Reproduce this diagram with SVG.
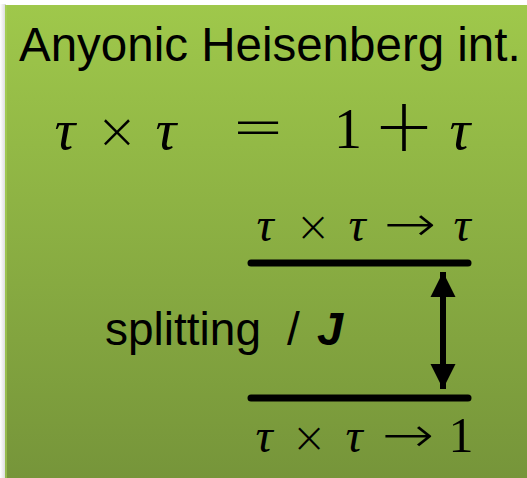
<svg xmlns="http://www.w3.org/2000/svg" width="527" height="478" viewBox="0 0 527 478">
<defs>
<linearGradient id="bg" x1="0" y1="0" x2="0" y2="1">
<stop offset="0" stop-color="#9fc84b"/>
<stop offset="1" stop-color="#76953a"/>
</linearGradient>
<linearGradient id="sh" x1="0" y1="0" x2="1" y2="0">
<stop offset="0" stop-color="#ffffff"/>
<stop offset="1" stop-color="#d8d8d8"/>
</linearGradient>
<marker id="ah" viewBox="0 0 10 10" refX="10" refY="5" markerWidth="4.2" markerHeight="4.2" orient="auto-start-reverse" markerUnits="strokeWidth">
<path d="M0,0 L10,5 L0,10 z" fill="#000"/>
</marker>
</defs>
<style>
.sans{font-family:"Liberation Sans",Arial,sans-serif;fill:#000}
.m{font-family:"Liberation Serif","DejaVu Serif",serif;fill:#000;text-anchor:middle}
.op{font-family:"DejaVu Sans",sans-serif;fill:#000;text-anchor:middle;font-weight:200}
.it{font-style:italic}
.lvl{stroke:#000;stroke-width:7;stroke-linecap:round}
</style>
<rect x="0" y="0" width="527" height="478" fill="#ffffff"/>
<rect x="0" y="4" width="6" height="474" fill="url(#sh)"/>
<rect x="5" y="5" width="522" height="473" fill="url(#bg)"/>
<rect x="5" y="5" width="2" height="473" fill="#a9d05a" opacity="0.6"/>

<g id="title"><text class="sans" x="19" y="61" font-size="47.5">Anyonic Heisenberg int.</text></g>

<g id="fusion-rule">
<text class="m it" x="65" y="149" font-size="58">τ</text>
<text class="op" x="117" y="148" font-size="50">×</text>
<text class="m it" x="166" y="149" font-size="58">τ</text>
<text class="op" x="258" y="148" font-size="64">=</text>
<text class="m" x="348" y="148" font-size="56">1</text>
<text class="op" x="404" y="151" font-size="74">+</text>
<text class="m it" x="460" y="149" font-size="58">τ</text>
</g>

<g id="level-top">
<line class="lvl" x1="251" y1="263" x2="468" y2="263"/>
<text class="m it" x="265" y="241" font-size="48">τ</text>
<text class="op" x="313" y="241" font-size="42">×</text>
<text class="m it" x="357" y="241" font-size="48">τ</text>
<text class="op" x="0" y="0" font-size="50" transform="translate(410,241) scale(1.25,1)">→</text>
<text class="m it" x="462" y="241" font-size="48">τ</text>
</g>

<g id="level-bottom">
<line class="lvl" x1="251" y1="398" x2="468" y2="398"/>
<text class="m it" x="264" y="452" font-size="48">τ</text>
<text class="op" x="309" y="452" font-size="42">×</text>
<text class="m it" x="354" y="452" font-size="48">τ</text>
<text class="op" x="0" y="0" font-size="50" transform="translate(408,452) scale(1.25,1)">→</text>
<text class="m" x="461" y="452" font-size="50">1</text>
</g>

<g id="splitting-label">
<text class="sans" x="105" y="345" font-size="46">splitting</text>
<text class="sans" x="287" y="345" font-size="46">/</text>
<text class="sans" x="317" y="345" font-size="47" font-style="italic" font-weight="bold">J</text>
</g>

<g id="connectors">
<line x1="443" y1="272" x2="443" y2="389" stroke="#000" stroke-width="6" marker-start="url(#ah)" marker-end="url(#ah)"/>
</g>
</svg>
